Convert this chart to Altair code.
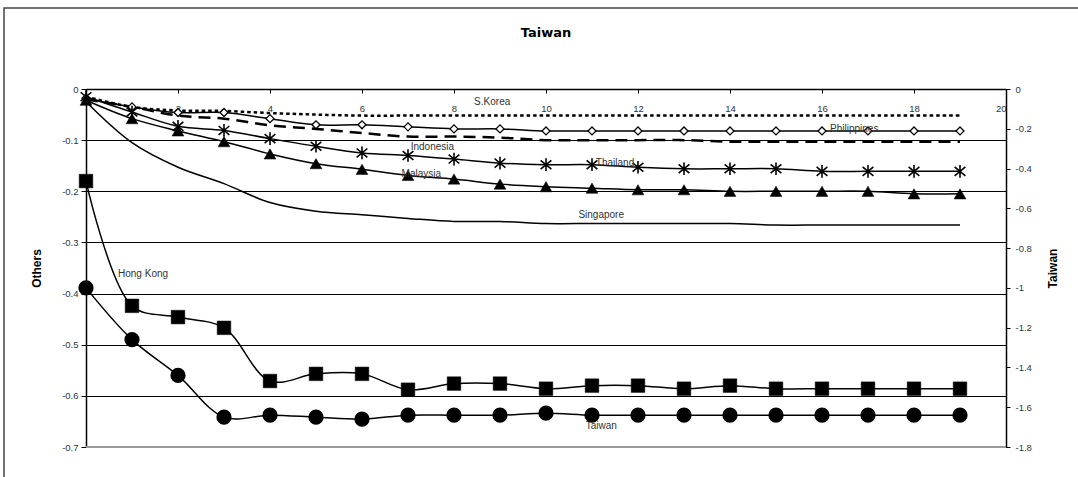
import altair as alt
import pandas as pd

# Periods after the shock
periods = list(range(20))

# Responses of the other economies (left axis)
s_korea = [-0.015, -0.035, -0.042, -0.043, -0.047, -0.050, -0.052, -0.052, -0.052, -0.052,
           -0.052, -0.052, -0.052, -0.052, -0.052, -0.052, -0.052, -0.052, -0.052, -0.052]
philippines = [-0.018, -0.035, -0.046, -0.046, -0.058, -0.070, -0.070, -0.074, -0.078, -0.078,
               -0.082, -0.082, -0.082, -0.082, -0.082, -0.082, -0.082, -0.082, -0.082, -0.082]
indonesia = [-0.020, -0.035, -0.052, -0.058, -0.071, -0.078, -0.086, -0.093, -0.093, -0.095,
             -0.100, -0.100, -0.100, -0.100, -0.103, -0.103, -0.103, -0.103, -0.103, -0.103]
thailand = [-0.015, -0.045, -0.073, -0.081, -0.097, -0.112, -0.125, -0.130, -0.137, -0.145,
            -0.148, -0.148, -0.153, -0.156, -0.156, -0.156, -0.161, -0.161, -0.161, -0.161]
malaysia = [-0.022, -0.058, -0.082, -0.103, -0.127, -0.146, -0.157, -0.169, -0.176, -0.186,
            -0.191, -0.194, -0.197, -0.197, -0.200, -0.200, -0.200, -0.200, -0.205, -0.205]
singapore = [-0.025, -0.105, -0.153, -0.185, -0.222, -0.239, -0.246, -0.253, -0.259, -0.259,
             -0.263, -0.263, -0.263, -0.263, -0.263, -0.266, -0.266, -0.266, -0.266, -0.266]
hong_kong = [-0.180, -0.424, -0.446, -0.467, -0.571, -0.557, -0.557, -0.588, -0.576, -0.576,
             -0.586, -0.580, -0.580, -0.586, -0.580, -0.586, -0.586, -0.586, -0.586, -0.586]

# Own response of Taiwan (right axis)
taiwan = [-1.00, -1.26, -1.44, -1.65, -1.64, -1.65, -1.66, -1.64, -1.64, -1.64,
          -1.63, -1.64, -1.64, -1.64, -1.64, -1.64, -1.64, -1.64, -1.64, -1.64]

# Series name labels, placed in data units of the left axis
label_names = ["S.Korea", "Philippines", "Indonesia", "Thailand", "Malaysia",
               "Singapore", "Hong Kong", "Taiwan"]
label_x = [8.83, 16.7, 7.53, 11.5, 7.29, 11.2, 1.24, 11.2]
label_y = [-0.026, -0.079, -0.114, -0.144, -0.166, -0.246, -0.361, -0.658]

left_ticks = [0, -0.1, -0.2, -0.3, -0.4, -0.5, -0.6, -0.7]
right_ticks = [0, -0.2, -0.4, -0.6, -0.8, -1, -1.2, -1.4, -1.6, -1.8]
x_ticks = [0, 2, 4, 6, 8, 10, 12, 14, 16, 18, 20]

W, H = 920, 358
FONT = "Liberation Sans"
MINUS_FIX = "replace(datum.label, '\u2212', '-')"

x_axis = alt.Axis(
    orient="bottom", offset=-H, values=x_ticks,
    labelExpr="datum.value == 0 ? '' : datum.label",
    labelFont=FONT, labelFontSize=9.5, labelColor="#333", labelPadding=10,
    tickColor="black", tickSize=4, domainColor="black", domainWidth=1.5,
    grid=False, title=None,
)
x_enc = alt.X("period:Q", scale=alt.Scale(domain=[0, 20], nice=False), axis=x_axis)

left_axis = alt.Axis(
    values=left_ticks, format=".1~f", labelExpr=MINUS_FIX,
    labelFont=FONT, labelFontSize=9.5, labelColor="#333", labelPadding=3,
    tickColor="black", tickSize=5, domainColor="black", domainWidth=1.5,
    grid=True, gridColor="black", gridWidth=1, gridOpacity=1,
    title="Others", titleFont=FONT, titleFontSize=12, titleFontWeight="bold",
    titleColor="black", titleAngle=-90, titleX=-50, titleY=H / 2,
    titleBaseline="middle", titleAlign="center",
)
left_scale = alt.Scale(domain=[-0.7, 0], nice=False, zero=False)

right_axis = alt.Axis(
    orient="right", values=right_ticks, format=".1~f", labelExpr=MINUS_FIX,
    labelFont=FONT, labelFontSize=9.5, labelColor="#333", labelPadding=5,
    tickColor="black", tickSize=4, domainColor="black", domainWidth=1.5,
    grid=False,
    title="Taiwan", titleFont=FONT, titleFontSize=12, titleFontWeight="bold",
    titleColor="black", titleAngle=-90, titleX=46, titleY=H / 2,
    titleBaseline="middle", titleAlign="center",
)
right_scale = alt.Scale(domain=[-1.8, 0], nice=False, zero=False)


def frame(values, name):
    return pd.DataFrame({"period": periods, "value": values, "country": name})


def y_left():
    return alt.Y("value:Q", scale=left_scale, axis=left_axis)


def line_layer(values, name, dash=None, width=1.5):
    props = dict(color="black", strokeWidth=width, interpolate="catmull-rom")
    if dash is not None:
        props["strokeDash"] = dash
    return alt.Chart(frame(values, name)).mark_line(**props).encode(x=x_enc, y=y_left())


def point_layer(values, name, y_enc, **style):
    return alt.Chart(frame(values, name)).mark_point(opacity=1, **style).encode(x=x_enc, y=y_enc)


# Outer chart border
border = alt.Chart(alt.Data(values=[{}])).mark_rect(
    fill=None, stroke="#444", strokeWidth=1.5
).encode(x=alt.value(-82), x2=alt.value(1100), y=alt.value(-81), y2=alt.value(500))

# Bottom gridline drawn in grey
floor = alt.Chart(pd.DataFrame({"value": [-0.7]})).mark_rule(
    color="#999", strokeWidth=2
).encode(y=y_left())

asterisk = "M0,-1L0,1M-0.85,-0.7L0.85,0.7M-0.85,0.7L0.85,-0.7"

left_layers = [
    border,
    floor,
    line_layer(s_korea, "S.Korea", dash=[3.5, 3], width=2.5),
    line_layer(indonesia, "Indonesia", dash=[12, 7], width=2.5),
    line_layer(philippines, "Philippines"),
    point_layer(philippines, "Philippines", y_left(), shape="diamond", size=64,
                filled=True, fill="white", stroke="black", strokeWidth=1.3),
    line_layer(thailand, "Thailand"),
    point_layer(thailand, "Thailand", y_left(), shape=asterisk, size=160,
                filled=False, stroke="black", strokeWidth=1.6),
    line_layer(malaysia, "Malaysia"),
    point_layer(malaysia, "Malaysia", y_left(), shape="triangle-up", size=140,
                filled=True, fill="black", stroke="black", strokeWidth=0.5),
    line_layer(singapore, "Singapore"),
    line_layer(hong_kong, "Hong Kong"),
    point_layer(hong_kong, "Hong Kong", y_left(), shape="square", size=185,
                filled=True, fill="black", stroke="black", strokeWidth=0.5),
    alt.Chart(pd.DataFrame({"period": label_x, "value": label_y, "name": label_names}))
    .mark_text(font=FONT, fontSize=10, color="#333", align="center", baseline="middle")
    .encode(x=x_enc, y=y_left(), text="name:N"),
]

y_right = alt.Y("value:Q", scale=right_scale, axis=right_axis)
taiwan_df = frame(taiwan, "Taiwan")
right_layers = [
    alt.Chart(taiwan_df).mark_line(color="black", strokeWidth=1.5, interpolate="catmull-rom")
    .encode(x=x_enc, y=y_right),
    alt.Chart(taiwan_df).mark_point(shape="circle", size=175, filled=True, fill="black",
                                     stroke="black", opacity=1)
    .encode(x=x_enc, y=y_right),
]

chart = (
    alt.layer(alt.layer(*left_layers), alt.layer(*right_layers))
    .resolve_scale(y="independent")
    .properties(
        width=W, height=H,
        title=alt.TitleParams("Taiwan", font="DejaVu Sans", fontSize=13, fontWeight="bold",
                              color="black", anchor="middle", frame="group",
                              baseline="middle", offset=-39),
        padding={"left": 86, "top": 89, "right": 72, "bottom": 30},
        autosize=alt.AutoSizeParams(type="none"),
    )
    .configure_view(stroke=None)
    .configure(background="white")
)

chart.save("out.html", embed_options={"renderer": "svg", "actions": False})
